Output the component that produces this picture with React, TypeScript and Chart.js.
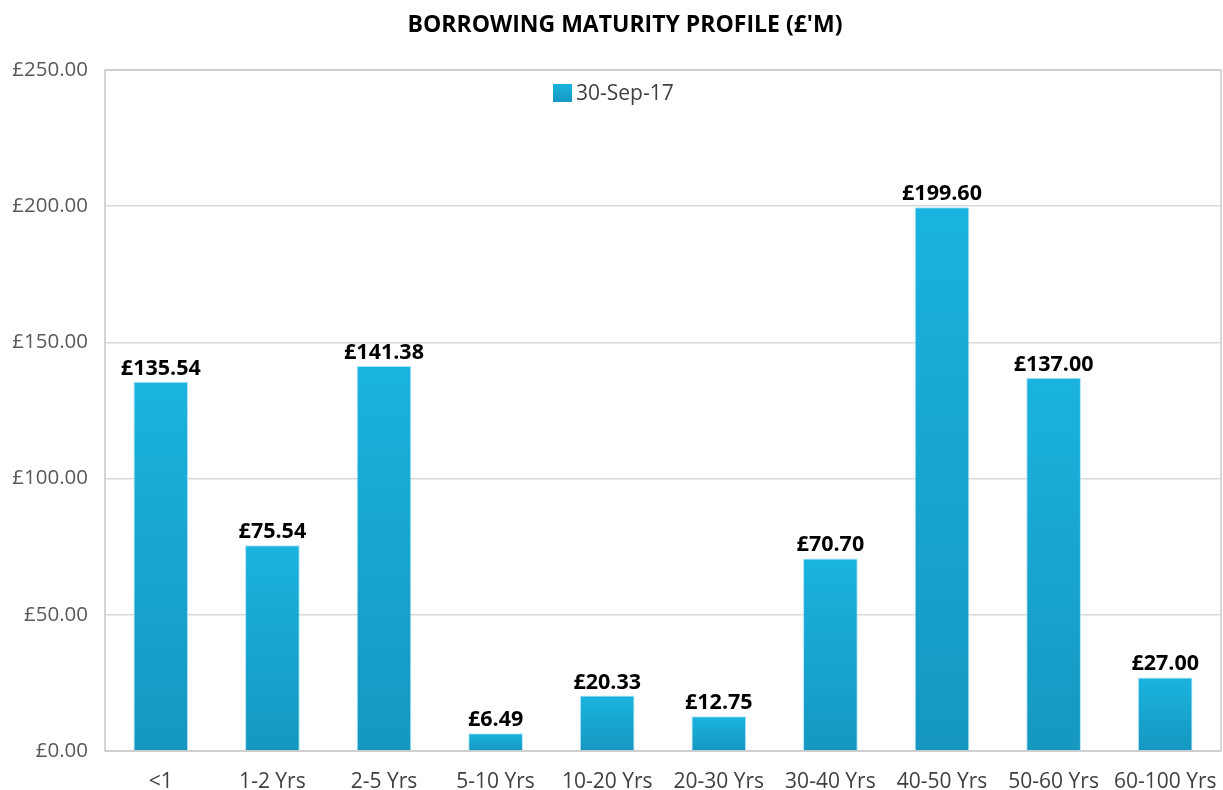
import React, { useEffect, useRef } from "react";
import { Chart, registerables } from "chart.js";

Chart.register(...registerables);

const categories = ["<1", "1-2 Yrs", "2-5 Yrs", "5-10 Yrs", "10-20 Yrs", "20-30 Yrs", "30-40 Yrs", "40-50 Yrs", "50-60 Yrs", "60-100 Yrs"];
const values = [135.54, 75.54, 141.38, 6.49, 20.33, 12.75, 70.7, 199.6, 137.0, 27.0];
const seriesLabel = "30-Sep-17";
const titleText = "BORROWING MATURITY PROFILE (£'M)";

const FONT = "'Open Sans', sans-serif";
const fmt = (v: number) => "£" + v.toFixed(2);

export default function App() {
  const ref = useRef<HTMLCanvasElement | null>(null);

  useEffect(() => {
    document.body.style.margin = "0";
    const canvas = ref.current!;
    const frame = {
      id: "frame",
      beforeDatasetsDraw(chart: any) {
        const { ctx, chartArea: a } = chart;
        ctx.save();
        ctx.strokeStyle = "#c8c8c8";
        ctx.lineWidth = 1.5;
        ctx.strokeRect(a.left, a.top, a.right - a.left, a.bottom - a.top);
        ctx.restore();
      },
      afterDatasetsDraw(chart: any) {
        const { ctx } = chart;
        const meta = chart.getDatasetMeta(0);
        ctx.save();
        // title
        ctx.font = `bold 23px ${FONT}`;
        ctx.fillStyle = "#000000";
        ctx.textAlign = "center";
        ctx.textBaseline = "middle";
        ctx.fillText(titleText, 625, 25);
        // data labels
        ctx.font = `bold 21.5px ${FONT}`;
        ctx.textBaseline = "alphabetic";
        meta.data.forEach((el: any, i: number) => {
          ctx.fillText(fmt(values[i]), el.x, el.y - 7);
        });
        // legend inside plot area
        const ds = chart.data.datasets[0];
        const lx = 553, ly = 84, sz = 18;
        const g = ctx.createLinearGradient(0, ly, 0, ly + sz);
        g.addColorStop(0, "#1ab3df");
        g.addColorStop(1, "#1598c1");
        ctx.fillStyle = g;
        ctx.fillRect(lx, ly, sz + 1, sz);
        ctx.font = `21px ${FONT}`;
        ctx.fillStyle = "#404040";
        ctx.textAlign = "left";
        ctx.textBaseline = "middle";
        ctx.fillText(ds.label, lx + 23, ly + sz / 2 + 1);
        ctx.restore();
      },
    };

    const chart = new Chart(canvas, {
      type: "bar",
      data: {
        labels: categories,
        datasets: [
          {
            label: seriesLabel,
            data: values,
            backgroundColor: (ctx: any) => {
              const chart = ctx.chart;
              const y = chart.scales?.y;
              if (!y || ctx.dataIndex === undefined) return "#18a8d4";
              const top = y.getPixelForValue(values[ctx.dataIndex]);
              const bottom = y.getPixelForValue(0);
              if (!isFinite(top) || !isFinite(bottom) || top === bottom) return "#18a8d4";
              const g = chart.ctx.createLinearGradient(0, top, 0, bottom);
              g.addColorStop(0, "#1ab3df");
              g.addColorStop(1, "#1597c0");
              return g;
            },
            borderColor: "rgba(170,225,245,0.9)",
            borderWidth: 1,
            categoryPercentage: 1,
            barPercentage: 0.49,
          },
        ],
      },
      options: {
        animation: false,
        responsive: false,
        maintainAspectRatio: false,
        layout: { padding: { left: 0, right: 2, top: 70, bottom: 0 } },
        plugins: {
          legend: { display: false },
          tooltip: { enabled: false },
          title: { display: false },
        },
        scales: {
          x: {
            grid: { display: false },
            border: { display: false },
            ticks: {
              color: "#404040",
              font: { family: FONT, size: 21 },
              padding: 10,
              maxRotation: 0,
              autoSkip: false,
            },
            afterFit: (s: any) => {
              s.height = 39;
              s.paddingRight = 0;
              s.paddingLeft = 0;
            },
          },
          y: {
            min: 0,
            max: 250,
            grid: { color: "#d9d9d9", lineWidth: 1.5, drawTicks: false },
            border: { display: false },
            ticks: {
              stepSize: 50,
              color: "#595959",
              font: { family: FONT, size: 20.5 },
              padding: 17,
              callback: (v: any) => fmt(Number(v)),
            },
            afterFit: (s: any) => {
              s.width = 105;
              s.paddingTop = 0;
              s.paddingBottom = 0;
            },
          },
        },
      },
      plugins: [frame],
    } as any);
    return () => chart.destroy();
  }, []);

  return (
    <div style={{ position: "absolute", left: 0, top: 0, width: 1223, height: 790, background: "#fff" }}>
      <canvas ref={ref} width={1223} height={790} style={{ width: 1223, height: 790 }} />
    </div>
  );
}
